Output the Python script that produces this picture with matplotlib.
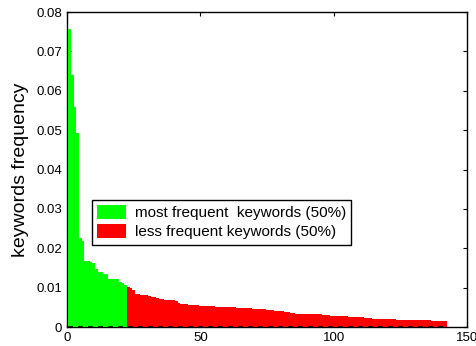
import matplotlib
matplotlib.use("Agg")
import matplotlib.pyplot as plt

plt.rcParams['font.family'] = ['Liberation Sans', 'DejaVu Sans']

# keyword frequencies, sorted
freq_most = [0.0757, 0.0640, 0.0558, 0.0493, 0.0226, 0.0218, 0.0168, 0.0168,
             0.0164, 0.0162, 0.0148, 0.0139, 0.0139, 0.0134, 0.0134, 0.0122,
             0.0122, 0.0122, 0.0122, 0.0114, 0.0111, 0.0107]
freq_less = [0.0102, 0.0098, 0.0093, 0.0084, 0.0084, 0.0081, 0.0081, 0.0081,
             0.0079, 0.0076, 0.0076, 0.0074, 0.0071, 0.0071, 0.0069, 0.0069,
             0.0069, 0.0069, 0.0065, 0.0061, 0.0058, 0.0058, 0.0058, 0.0056,
             0.0056, 0.0056, 0.0056, 0.0053, 0.0053, 0.0053, 0.0053, 0.0053,
             0.0053, 0.0051, 0.0051, 0.0051, 0.0051, 0.0051, 0.0051, 0.0051,
             0.0051, 0.0048, 0.0048, 0.0048, 0.0048, 0.0048, 0.0048, 0.0046,
             0.0046, 0.0046, 0.0046, 0.0046, 0.0043, 0.0043, 0.0043, 0.0041,
             0.0041, 0.0041, 0.0041, 0.0038, 0.0038, 0.0036, 0.0036, 0.0033,
             0.0033, 0.0033, 0.0033, 0.0033, 0.0033, 0.0033, 0.0033, 0.0033,
             0.0033, 0.0030, 0.0030, 0.0030, 0.0028, 0.0028, 0.0028, 0.0028,
             0.0028, 0.0028, 0.0028, 0.0026, 0.0026, 0.0026, 0.0026, 0.0026,
             0.0026, 0.0022, 0.0022, 0.0022, 0.0020, 0.0020, 0.0020, 0.0020,
             0.0020, 0.0020, 0.0020, 0.0020, 0.0020, 0.0018, 0.0018, 0.0018,
             0.0018, 0.0018, 0.0018, 0.0018, 0.0018, 0.0018, 0.0018, 0.0018,
             0.0018, 0.0018, 0.0015, 0.0015, 0.0015, 0.0015, 0.0015, 0.0015]

x_most = list(range(1, len(freq_most) + 1))
x_less = list(range(len(freq_most) + 1, len(freq_most) + len(freq_less) + 1))

y_ticks = [0, 0.01, 0.02, 0.03, 0.04, 0.05, 0.06, 0.07, 0.08]
y_labels = ['0', '0.01', '0.02', '0.03', '0.04', '0.05', '0.06', '0.07', '0.08']
x_ticks = [0, 50, 100, 150]

fig = plt.figure(figsize=(4.77, 3.46), dpi=100)
ax = fig.add_axes([0.1405, 0.0549, 0.8385, 0.9104])

ax.bar(x_most, freq_most, width=1, color='#00ff00', linewidth=0, zorder=3,
       label='most frequent  keywords (50%)')
ax.bar(x_less, freq_less, width=1, color='#ff0000', linewidth=0, zorder=3,
       label='less frequent keywords (50%)')

# dashed baseline under the bars
ax.plot([0.5, x_less[-1] + 0.5], [0, 0], color='k', lw=1.2,
        dashes=(3, 3), zorder=4)

ax.set_xlim(0, 150)
ax.set_ylim(0, 0.08)
ax.set_xticks(x_ticks)
ax.set_yticks(y_ticks)
ax.set_yticklabels(y_labels)
ax.tick_params(direction='in', length=3, labelsize=9.5, top=True, right=True,
               width=0.8)
for s in ax.spines.values():
    s.set_linewidth(1.0)

ax.set_ylabel('keywords frequency', fontsize=14, labelpad=5)

leg = ax.legend(loc='upper left', bbox_to_anchor=(0.193, 0.422),
                bbox_transform=fig.transFigure, borderaxespad=0,
                fontsize=11, fancybox=False, framealpha=1,
                handlelength=1.85, handleheight=1.0, labelspacing=0.25,
                handletextpad=0.6, borderpad=0.35)
leg.get_frame().set_edgecolor('k')
leg.get_frame().set_linewidth(1.0)

plt.savefig('out.png', dpi=100)
